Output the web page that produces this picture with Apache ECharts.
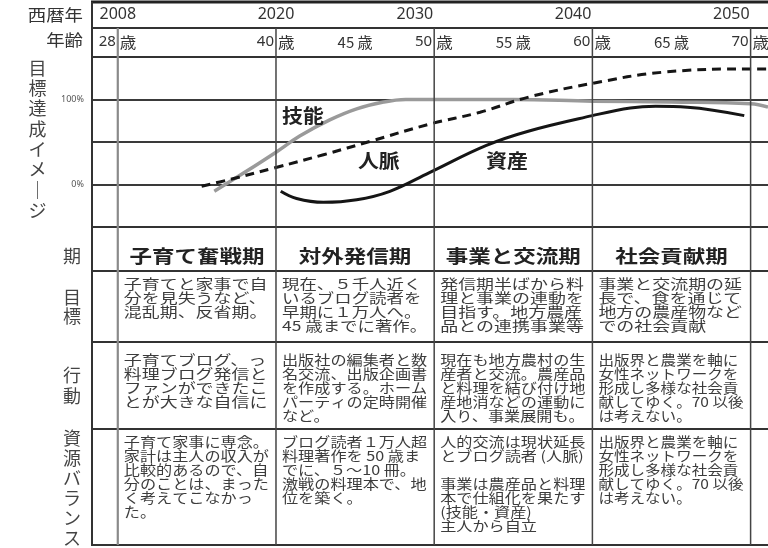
<!DOCTYPE html>
<html><head><meta charset="utf-8">
<script src="https://cdn.jsdelivr.net/npm/echarts@6/dist/echarts.min.js"></script>
<style>html,body{margin:0;padding:0;background:#fff}#c{width:768px;height:548px}</style>
</head><body><div id="c"></div>
<script>
// ---- data ----
const yearLabels = ['2008', '2020', '2030', '2040', '2050'];
const lineYears = [2010, 2020, 2030, 2040, 2050];
const lineAges = ['28', '40', '50', '60', '70'];
const midAgeYears = [2025, 2035, 2045];
const midAges = ['45', '55', '65'];
const seriesNames = ['技能', '人脈', '資産'];
const skill = [[2016.1,-8],[2018,14],[2020,38],[2021.5,57],[2023.4,76],[2025.1,89],[2026.8,97],[2028.2,100],[2035,100],[2040,98],[2045,97],[2050,95],[2051.1,91]];
const network = [[2015.3,-2],[2017.1,6],[2020,20],[2023,35],[2026,51],[2029.7,71],[2032.9,85],[2036,103],[2040,119],[2044.4,132],[2050,136],[2051.1,136]];
const assets = [[2020.3,-8],[2021.3,-16.5],[2023,-21],[2025.1,-18],[2027.2,-8],[2029.7,14],[2033.3,46],[2036,63],[2040,81],[2042.4,90],[2044,92],[2046,91],[2049.6,81]];
const labelPos = [[2021.7,80.6],[2026.5,27.6],[2034.6,28.2]];
const yTickShown = [0, 100];
const leftHeaders = ['西暦年', '年齢'];
const imageTitle = '目標達成イメージ';
const rowTitles = ['期', '目標', '行動', '資源バランス'];
const phases = ['子育て奮戦期', '対外発信期', '事業と交流期', '社会貢献期'];
const goals = [
  '子育てと家事で自\n分を見失うなど、\n混乱期、反省期。',
  '現在、５千人近く\nいるブログ読者を\n早期に１万人へ。\n45 歳までに著作。',
  '発信期半ばから料\n理と事業の連動を\n目指す。地方農産\n品との連携事業等',
  '事業と交流期の延\n長で、食を通じて\n地方の農産物など\nでの社会貢献'
];
const actions = [
  '子育てブログ、っ\n料理ブログ発信と\nファンができたこ\nとが大きな自信に',
  '出版社の編集者と数\n名交流、出版企画書\nを作成する。ホーム\nパーティの定時開催\nなど。',
  '現在も地方農村の生\n産者と交流。農産品\nと料理を結び付け地\n産地消などの運動に\n入り、事業展開も。',
  '出版界と農業を軸に\n女性ネットワークを\n形成し多様な社会貢\n献してゆく。70 以後\nは考えない。'
];
const resources = [
  '子育て家事に専念。\n家計は主人の収入が\n比較的あるので、自\n分のことは、まった\nく考えてこなかっ\nた。',
  'ブログ読者１万人超\n料理著作を 50 歳ま\nでに、５〜10 冊。\n激戦の料理本で、地\n位を築く。',
  '人的交流は現状延長\nとブログ読者 (人脈)\n\n事業は農産品と料理\n本で仕組化を果たす\n(技能・資産)\n主人から自立',
  '出版界と農業を軸に\n女性ネットワークを\n形成し多様な社会貢\n献してゆく。70 以後\nは考えない。'
];

// ---- layout ----
const JP = '"Noto Sans CJK JP"';
const L = { left: 92, right: 768, top: 2, yearRowBottom: 28, ageRowBottom: 57,
  chartBottom: 227, phaseBottom: 271, goalBottom: 342, actionBottom: 429, bottom: 545 };

const chart = echarts.init(document.getElementById('c'), null, { renderer: 'canvas', width: 768, height: 548 });
const mk = (name, data, ls) => ({ type: 'line', name, data, smooth: 0.4, showSymbol: false, symbol: 'none',
  lineStyle: ls, z: 5, silent: true, clip: true });
chart.setOption({
  animation: false,
  backgroundColor: '#fff',
  grid: { left: L.left, right: 0, top: L.ageRowBottom, bottom: 548 - L.chartBottom },
  xAxis: { type: 'value', min: 2008.37, max: 2051.1, show: false },
  yAxis: { type: 'value', min: -50, max: 150, interval: 50,
    axisLine: { show: false }, axisTick: { show: false },
    splitLine: { show: true, lineStyle: { color: '#3a3a3a', width: 2 } },
    axisLabel: { formatter: v => yTickShown.includes(v) ? v + '%' : '', fontSize: 9, color: '#555', margin: 8, fontFamily: 'Noto Sans' } },
  series: [
    mk(seriesNames[0], skill, { color: '#9a9a9a', width: 3.5 }),
    mk(seriesNames[1], network, { color: '#151515', width: 3, type: [9, 6] }),
    mk(seriesNames[2], assets, { color: '#151515', width: 3 })
  ]
});

const X = v => chart.convertToPixel({ xAxisIndex: 0 }, v);
const Y = v => chart.convertToPixel({ yAxisIndex: 0 }, v);
const ctx = document.createElement('canvas').getContext('2d');
function measure(text, font) {
  ctx.font = font;
  return Math.max(...text.split('\n').map(s => ctx.measureText(s).width));
}
function line(x1, y1, x2, y2, color, w) {
  return { type: 'line', shape: { x1, y1, x2, y2 }, style: { stroke: color, lineWidth: w }, z: 10, silent: true };
}
function txt(x, y, text, font, fill, align, valign, opt) {
  opt = opt || {};
  return { type: 'text', x, y, scaleX: opt.scaleX || 1, z: 20, silent: true,
    style: { text, font, fill, align, verticalAlign: valign, textAlign: align, textVerticalAlign: valign,
      lineHeight: opt.lineHeight } };
}

const g = [];
// horizontal table lines
g.push(line(L.left - 1, L.top, L.right, L.top, '#222', 3));
[L.yearRowBottom, L.ageRowBottom, L.chartBottom, L.phaseBottom, L.goalBottom, L.actionBottom, L.bottom]
  .forEach(y => g.push(line(L.left, y, L.right, y, '#333', 2)));
g.push(line(L.left, L.top, L.left, L.bottom + 1, '#333', 2));
// vertical lines
const colX = lineYears.map(X);
colX.forEach((x, i) => g.push(line(x, L.yearRowBottom, x, L.bottom, i === 0 ? '#8a8a8a' : '#444', i === 0 ? 2.2 : 1.5)));

// year & age labels
yearLabels.forEach((t, i) => g.push(txt(i < 2 ? colX[i] : colX[i] - 1, 14, t, '16px "Noto Sans"', '#333', i < 2 ? 'center' : 'right', 'middle')));
lineAges.forEach((t, i) => {
  g.push(txt(colX[i] - 2, 42, t, '15px "Noto Sans"', '#333', 'right', 'middle'));
  g.push(txt(colX[i] + 2, 42, '歳', '15px ' + JP, '#333', 'left', 'middle', { scaleX: 1.1 }));
});
midAges.forEach((t, i) => g.push(txt(X(midAgeYears[i]), 42, t + ' 歳', '15px ' + JP, '#333', 'center', 'middle')));

// left headers
g.push(txt(83, 15, leftHeaders[0], '16px ' + JP, '#333', 'right', 'middle', { scaleX: 1.15 }));
g.push(txt(83, 40, leftHeaders[1], '16px ' + JP, '#333', 'right', 'middle', { scaleX: 1.15 }));
const vert = s => s.split('').map(c => c === 'ー' ? '｜' : c).join('\n');
g.push(txt(37.5, 139, vert(imageTitle), '18px ' + JP, '#444', 'center', 'middle', { lineHeight: 20.3 }));
g.push(txt(72, 256, rowTitles[0], '18px ' + JP, '#444', 'center', 'middle'));
g.push(txt(72, 307, vert(rowTitles[1]), '18px ' + JP, '#444', 'center', 'middle', { lineHeight: 19 }));
g.push(txt(72, 386, vert(rowTitles[2]), '18px ' + JP, '#444', 'center', 'middle', { lineHeight: 21 }));
g.push(txt(72, 488, vert(rowTitles[3]), '18px ' + JP, '#444', 'center', 'middle', { lineHeight: 20 }));

// curve labels
seriesNames.forEach((n, i) => g.push(txt(X(labelPos[i][0]), Y(labelPos[i][1]), n, 'bold 19px ' + JP, '#222', 'center', 'middle', { scaleX: 1.1 })));

// phase headers
const hFont = 'bold 18px ' + JP;
phases.forEach((p, i) => {
  const cx = (colX[i] + colX[i + 1]) / 2;
  const w = measure(p, hFont);
  const sc = Math.min(1.25, (colX[i + 1] - colX[i] - 12) / w);
  g.push(txt(cx, 256, p, hFont, '#222', 'center', 'middle', { scaleX: sc }));
});

// cells
const cFont = '13.5px ' + JP;
const rows = [[goals, L.phaseBottom + 6], [actions, L.goalBottom + 11], [resources, L.actionBottom + 6]];
rows.forEach(([arr, top]) => arr.forEach((t, i) => {
  const x0 = colX[i] + 6;
  const avail = colX[i + 1] - colX[i] - 13;
  const sc = Math.min(1.33, avail / measure(t, cFont));
  g.push(txt(x0, top, t, cFont, '#3c3c3c', 'left', 'top', { scaleX: sc, lineHeight: 14 }));
}));

chart.setOption({ graphic: { elements: g } });
</script>
</body></html>
